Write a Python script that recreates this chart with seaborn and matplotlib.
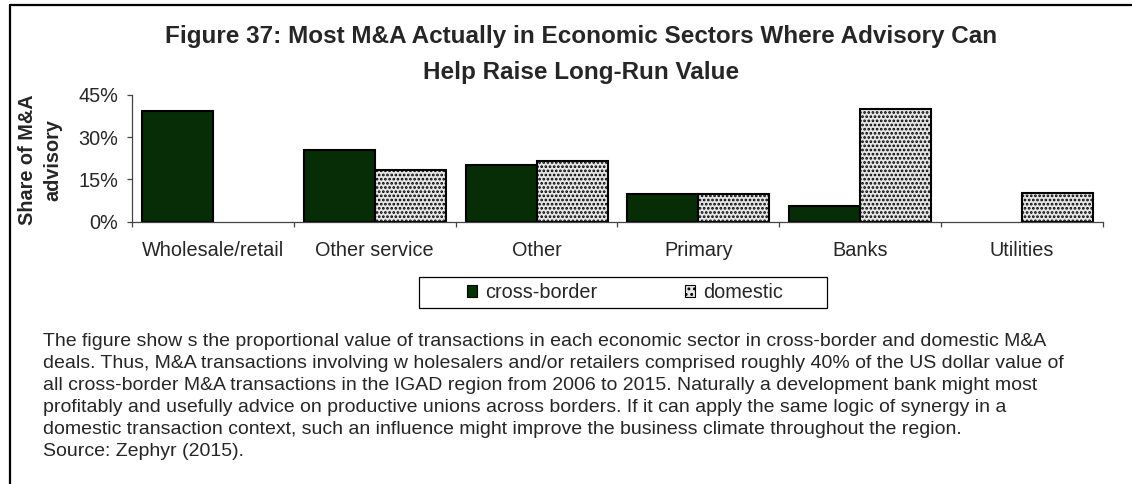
import numpy as np
import pandas as pd
import seaborn as sns
import matplotlib.pyplot as plt
from matplotlib.lines import Line2D
from matplotlib.patches import Patch, Rectangle

sectors = ["Wholesale/retail", "Other service", "Other", "Primary", "Banks", "Utilities"]
cross_border = [39.4, 25.5, 20.3, 9.7, 5.6, 0.0]
domestic = [0.0, 18.4, 21.6, 9.7, 39.9, 10.3]
series = ["cross-border", "domestic"]
yticks = [0, 15, 30, 45]

title_lines = ["Figure 37: Most M&A Actually in Economic Sectors Where Advisory Can",
               "Help Raise Long-Run Value"]
note_lines = [
    "The figure show s the proportional value of transactions in each economic sector in cross-border and domestic M&A",
    "deals. Thus, M&A transactions involving w holesalers and/or retailers comprised roughly 40% of the US dollar value of",
    "all cross-border M&A transactions in the IGAD region from 2006 to 2015. Naturally a development bank might most",
    "profitably and usefully advice on productive unions across borders. If it can apply the same logic of synergy in a",
    "domestic transaction context, such an influence might improve the business climate throughout the region.",
    "Source: Zephyr (2015).",
]

df = pd.DataFrame({"sector": sectors * 2,
                   "kind": [series[0]] * len(sectors) + [series[1]] * len(sectors),
                   "share": cross_border + domestic})

sns.set_style("white")
plt.rcParams["font.family"] = ["Liberation Sans", "DejaVu Sans"]
plt.rcParams["hatch.linewidth"] = 1.3

dark = "#003300"
light = "#e6e6e6"
W, H = 1132, 484

fig = plt.figure(figsize=(11.32, 4.84), dpi=100)
ax = fig.add_axes([132 / W, 1 - 221.7 / H, (1103 - 132) / W, (221.7 - 95) / H])

sns.barplot(data=df, x="sector", y="share", hue="kind", order=sectors,
            hue_order=series, palette=[dark, light], width=0.877, gap=0,
            edgecolor="black", linewidth=1.5, legend=False, ax=ax)

# dotted texture on the domestic bars, hide empty bars
n = len(sectors)
for i, p in enumerate(ax.patches[:2 * n]):
    if p.get_height() == 0:
        p.set_visible(False)
    if i >= n:
        p.set_hatch("....")
        try:
            p.set_hatchcolor("#505050")
        except AttributeError:
            pass

ax.set_ylim(0, 45)
ax.set_yticks(yticks)
ax.set_yticklabels([f"{v}%" for v in yticks], fontsize=14.3)
ax.set_xlim(-0.5, n - 0.5)
ax.set_xticks(np.arange(n))
ax.set_xticklabels(sectors, fontsize=14.3)
ax.set_xticks(np.arange(n + 1) - 0.5, minor=True)
ax.tick_params(axis="x", which="major", length=0, pad=14)
ax.tick_params(axis="x", which="minor", length=3.8, width=0.9, direction="out", color="#444444", bottom=True)
ax.tick_params(axis="y", length=3.8, width=0.9, direction="out", color="#444444", left=True, pad=6)
ax.set_xlabel("")
ax.set_ylabel("")
for s in ["top", "right"]:
    ax.spines[s].set_visible(False)
for s in ["left", "bottom"]:
    ax.spines[s].set_color("#444444")
    ax.spines[s].set_linewidth(0.9)

fig.text(40 / W, 1 - 160 / H, "Share of M&A\nadvisory", rotation=90, ha="center", va="center",
         fontsize=14.3, fontweight="bold", linespacing=1.4, multialignment="center")

fig.text(581 / W, 1 - 36 / H, title_lines[0], ha="center", va="center", fontsize=17.5, fontweight="bold")
fig.text(581 / W, 1 - 72 / H, title_lines[1], ha="center", va="center", fontsize=17.5, fontweight="bold")

# legend: entries without frame, box drawn separately (wider side padding)
handles = [Patch(facecolor=dark, edgecolor="black", linewidth=0.8),
           Patch(facecolor=light, edgecolor="black", linewidth=0.8, hatch="...")]
fig.legend(handles, series, loc="center", bbox_to_anchor=(625 / W, 1 - 292.5 / H),
           ncol=2, fontsize=14.3, frameon=False, handlelength=0.5, handleheight=0.5,
           handletextpad=0.4, columnspacing=4.4, borderpad=0.2)
fig.add_artist(Rectangle((419 / W, 1 - 308 / H), (827 - 419) / W, 31 / H, transform=fig.transFigure,
                         facecolor="none", edgecolor="black", linewidth=0.9))

y0 = 1 - 341 / H
for i, line in enumerate(note_lines):
    fig.text(43 / W, y0 - i * 22.2 / H, line, ha="left", va="center", fontsize=14.0)

# frame around the figure block
fig.add_artist(Line2D([10 / W, 1.0], [1 - 5 / H, 1 - 5 / H], color="black", lw=1.6, transform=fig.transFigure))
fig.add_artist(Line2D([10 / W, 10 / W], [0.0, 1 - 5 / H], color="black", lw=1.6, transform=fig.transFigure))

fig.savefig("out.png", dpi=100)
